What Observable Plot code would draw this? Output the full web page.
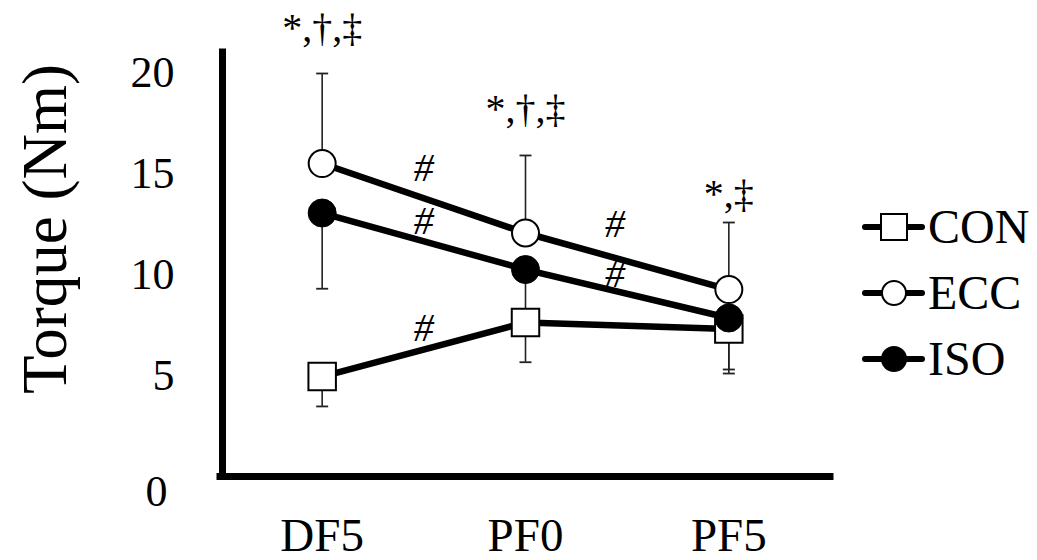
<!DOCTYPE html>
<html>
<head>
<meta charset="utf-8">
<script src="https://cdn.jsdelivr.net/npm/d3@7"></script>
<script src="https://cdn.jsdelivr.net/npm/@observablehq/plot@0.6"></script>
<style>
  html, body { margin: 0; padding: 0; background: #fff; }
  #wrap { position: relative; width: 1037px; height: 560px; overflow: hidden; }
  #legend { position: absolute; left: 862px; top: 194px; font-family: "Liberation Serif", "Times New Roman", serif; font-size: 48px; color: #000; }
  .row { display: flex; align-items: center; height: 66px; }
  .row svg { display: block; margin-right: 2px; }
  .row span { line-height: 1; }
  #ytitle { position: absolute; left: 45px; top: 229px; transform: translate(-50%, -50%) rotate(-90deg); white-space: nowrap; font-family: "Liberation Serif", "Times New Roman", serif; font-size: 63px; line-height: 1; color: #000; }
</style>
</head>
<body>
<div id="wrap"><div id="chart"></div><div id="ytitle"></div><div id="legend"></div></div>
<script>
// ---- data ----
const phases = ["DF5", "PF0", "PF5"];
const groups = ["CON", "ECC", "ISO"];
const conMean = [4.95, 7.63, 7.3];
const eccMean = [15.5, 12.06, 9.26];
const isoMean = [13.05, 10.25, 7.85];
const conSD = [1.48, 1.97, 2.2];
const eccSD = [4.46, 3.84, 3.32];
const isoSD = [3.75, 2.7, 2.55];
const yTicks = [0, 5, 10, 15, 20];
const yTitle = "Torque (Nm)";
const sigLabels = ["*,†,‡", "*,†,‡", "*,‡"];
const sigY = [22.2, 18.2, 14.0];
const hashX = [0.5, 0.5, 0.5, 1.44, 1.44];
const hashY = [15.25, 12.63, 7.33, 12.48, 10.0];

// ---- build tables ----
const means = {CON: conMean, ECC: eccMean, ISO: isoMean};
const sds = {CON: conSD, ECC: eccSD, ISO: isoSD};
const dir = {CON: -1, ECC: 1, ISO: -1};
const rows = [];
for (const g of groups) {
  phases.forEach((p, i) => {
    const m = means[g][i], s = sds[g][i];
    rows.push({group: g, x: i, phase: p, mean: m, end: m + dir[g] * s});
  });
}
const sig = sigLabels.map((t, i) => ({x: i, y: sigY[i], t}));
const hashes = hashX.map((x, i) => ({x, y: hashY[i], t: "#"}));

const cap = {draw(ctx, size) { const w = Math.sqrt(size / Math.PI); ctx.moveTo(-w, 0); ctx.lineTo(w, 0); }};
const serif = '"Liberation Serif", "Times New Roman", serif';

const chart = Plot.plot({
  width: 1037,
  height: 560,
  marginLeft: 220,
  marginRight: 207,
  marginTop: 52,
  marginBottom: 84,
  style: {fontFamily: serif, background: "#fff", color: "#000", overflow: "visible"},
  x: {domain: [-0.5, 2.5]},
  y: {domain: [0, 21]},
  marks: [
    // axes
    Plot.axisX([0, 1, 2], {tickSize: 0, tickPadding: 41, fontSize: 47, tickFormat: i => phases[i], label: null}),
    Plot.axisY(yTicks.filter(d => d !== 0), {tickSize: 0, tickPadding: 46, fontSize: 44, label: null}),
    Plot.axisY([0], {tickSize: 0, tickPadding: 53, fontSize: 44, dy: 15, label: null}),
    Plot.ruleX([-0.5], {stroke: "#000", strokeWidth: 7, strokeLinecap: "square", dx: 2}),
    Plot.ruleY([0], {stroke: "#000", strokeWidth: 7, strokeLinecap: "square"}),
    // error bars
    Plot.ruleX(rows, {x: "x", y1: "mean", y2: "end", stroke: "#222", strokeWidth: 1.6}),
    Plot.dot(rows, {x: "x", y: "end", symbol: cap, r: 6, stroke: "#222", strokeWidth: 1.8, fill: "none"}),
    // lines
    Plot.line(rows, {x: "x", y: "mean", z: "group", stroke: "#000", strokeWidth: 6.5}),
    // markers
    Plot.dot(rows.filter(d => d.group === "CON"), {x: "x", y: "mean", symbol: "square", r: 15.5, fill: "#fff", stroke: "#000", strokeWidth: 2}),
    Plot.dot(rows.filter(d => d.group === "ECC"), {x: "x", y: "mean", symbol: "circle", r: 13.5, fill: "#fff", stroke: "#000", strokeWidth: 2}),
    Plot.dot(rows.filter(d => d.group === "ISO"), {x: "x", y: "mean", symbol: "circle", r: 14, fill: "#000", stroke: "#000", strokeWidth: 1}),
    // annotations
    Plot.text(sig, {x: "x", y: "y", text: "t", fontSize: 40, fill: "#000"}),
    Plot.text(hashes, {x: "x", y: "y", text: "t", fontSize: 40, fontStyle: "italic", fill: "#000"})
  ]
});
document.getElementById("chart").appendChild(chart);
document.getElementById("ytitle").textContent = yTitle;

// ---- legend ----
const legend = document.getElementById("legend");
for (const g of groups) {
  const row = document.createElement("div");
  row.className = "row";
  let marker;
  if (g === "CON") marker = '<rect x="19" y="7" width="26" height="26" fill="#fff" stroke="#000" stroke-width="2"/>';
  else if (g === "ECC") marker = '<circle cx="32" cy="20" r="12" fill="#fff" stroke="#000" stroke-width="2"/>';
  else marker = '<circle cx="32" cy="20" r="13" fill="#000"/>';
  row.innerHTML = '<svg width="64" height="40" viewBox="0 0 64 40"><line x1="3" y1="20" x2="60" y2="20" stroke="#000" stroke-width="6" stroke-linecap="round"/>' + marker + '</svg><span>' + g + '</span>';
  legend.appendChild(row);
}
</script>
</body>
</html>
